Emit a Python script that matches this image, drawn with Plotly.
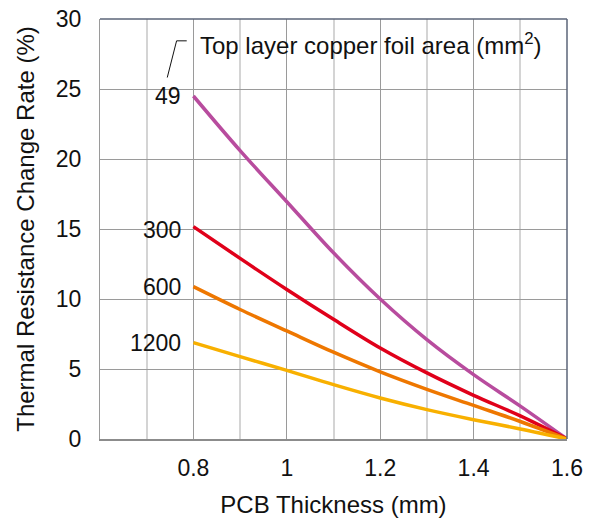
import plotly.graph_objects as go

thickness = [0.8, 0.9, 1.0, 1.1, 1.2, 1.3, 1.4, 1.5, 1.6]
rate_49 = [24.5, 20.6, 16.95, 13.3, 10.0, 7.1, 4.6, 2.35, 0.0]
rate_300 = [15.17, 12.9, 10.68, 8.55, 6.5, 4.72, 3.12, 1.65, 0.0]
rate_600 = [10.88, 9.25, 7.72, 6.2, 4.8, 3.55, 2.4, 1.25, 0.0]
rate_1200 = [6.88, 5.88, 4.9, 3.88, 2.93, 2.1, 1.38, 0.72, 0.0]
series_names = ["49", "300", "600", "1200"]
series_colors = ["#B84C9E", "#E0001A", "#EE7700", "#F8B000"]
x_tick_vals = [0.8, 1.0, 1.2, 1.4, 1.6]
x_tick_text = ["0.8", "1", "1.2", "1.4", "1.6"]
x_minor_vals = [0.7, 0.9, 1.1, 1.3, 1.5]
y_tick_vals = [0, 5, 10, 15, 20, 25, 30]

FONT = "Liberation Sans, Arial, sans-serif"
FS = 23
FT = 24
fig = go.Figure()
all_series = [rate_49, rate_300, rate_600, rate_1200]
label_yshift = {"49": 0, "300": -3, "600": 0, "1200": 0}
for name, vals, col in zip(series_names, all_series, series_colors):
    fig.add_trace(go.Scatter(x=thickness, y=vals, mode="lines", name=name,
                             line=dict(color=col, width=3.5, shape="spline", smoothing=1.0),
                             showlegend=False, hoverinfo="skip"))
    fig.add_annotation(x=thickness[0], y=vals[0], text=name, showarrow=False,
                       xanchor="right", yanchor="middle", xshift=-10,
                       yshift=label_yshift[name],
                       font=dict(family=FONT, size=FS, color="#111"))

fig.add_annotation(x=0.81, y=28.2, text="Top layer copper foil area (mm<sup>2</sup>)", showarrow=False,
                   xanchor="left", yanchor="middle", font=dict(family=FONT, size=FT, color="#111"))
# leader line
fig.add_shape(type="line", x0=0.744, y0=25.82, x1=0.764, y1=28.44,
              line=dict(color="#111", width=1))
fig.add_shape(type="line", x0=0.764, y0=28.44, x1=0.7857, y1=28.44,
              line=dict(color="#111", width=1))
# top and right border
fig.add_shape(type="line", xref="paper", yref="paper", x0=0, y0=1, x1=1, y1=1,
              line=dict(color="#5B6578", width=1.5))
fig.add_shape(type="line", xref="paper", yref="paper", x0=1, y0=0, x1=1, y1=1,
              line=dict(color="#5B6578", width=1.5))

fig.update_layout(
    width=595, height=518,
    margin=dict(l=100, r=28, t=19, b=79),
    plot_bgcolor="white", paper_bgcolor="white",
    font=dict(family=FONT, size=FS, color="#111"),
    xaxis=dict(range=[0.6, 1.6], tickvals=x_tick_vals, ticktext=x_tick_text,
               showgrid=True, gridcolor="#9A9A9A", gridwidth=1,
               showline=True, linecolor="#8C8C8C", linewidth=1.5,
               ticks="", ticklabelstandoff=8, automargin=False,
               minor=dict(tickvals=x_minor_vals, showgrid=True, gridcolor="#D4D4D4", gridwidth=1.5),
               title=dict(text="PCB Thickness (mm)", font=dict(size=FT), standoff=17),
               zeroline=False),
    yaxis=dict(range=[0, 30], tickvals=y_tick_vals,
               showgrid=True, gridcolor="#9A9A9A", gridwidth=1,
               showline=True, linecolor="#9A9A9A", linewidth=1,
               ticks="", ticklabelstandoff=13, automargin=False,
               title=dict(text="Thermal Resistance Change Rate (%)", font=dict(size=FT), standoff=14),
               zeroline=False),
)

fig.write_html("out.html", config={"displayModeBar": False},
               post_script="document.body.style.margin='0';document.body.style.overflow='hidden';")
